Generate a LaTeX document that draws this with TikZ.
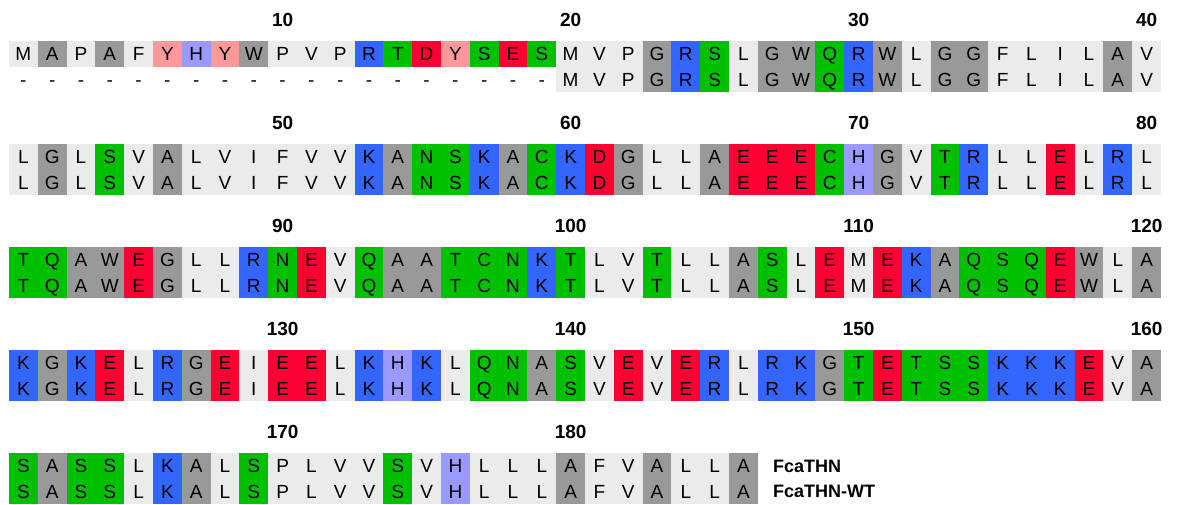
\documentclass[tikz,border=0pt]{standalone}
\usepackage{fontspec}
\setmainfont{Liberation Sans}
\usepackage{tikz}
\usetikzlibrary{positioning}

% residue colours
\definecolor{hydro}{HTML}{EBEBEB}
\definecolor{small}{HTML}{999999}
\definecolor{polar}{HTML}{00C000}
\definecolor{basic}{HTML}{3366FF}
\definecolor{acidic}{HTML}{FF0033}
\definecolor{arom}{HTML}{FF9999}
\definecolor{histi}{HTML}{9999FF}
\colorlet{resL}{hydro}\colorlet{resV}{hydro}\colorlet{resI}{hydro}
\colorlet{resF}{hydro}\colorlet{resM}{hydro}\colorlet{resP}{hydro}
\colorlet{resA}{small}\colorlet{resG}{small}\colorlet{resW}{small}
\colorlet{resS}{polar}\colorlet{resT}{polar}\colorlet{resN}{polar}
\colorlet{resQ}{polar}\colorlet{resC}{polar}
\colorlet{resK}{basic}\colorlet{resR}{basic}
\colorlet{resD}{acidic}\colorlet{resE}{acidic}
\colorlet{resY}{arom}\colorlet{resH}{histi}

\begin{document}
\begin{tikzpicture}[
  x=1pt,y=-1pt,
  aa/.style={inner sep=0pt,text height=13.7pt,text depth=0pt,font=\fontsize{19}{19}\selectfont},
  num/.style={inner sep=0pt,text height=13.7pt,text depth=0pt,font=\fontsize{19}{19}\selectfont\bfseries},
  seqname/.style={inner sep=0pt,text height=13pt,text depth=0pt,anchor=west,font=\fontsize{18}{18}\selectfont\bfseries}
]
\fill[white] (0,0) rectangle (1180,504);
\useasboundingbox (0,0) rectangle (1180,504);

\foreach \blk [count=\k from 0] in {
  {M,A,P,A,F,Y,H,Y,W,P,V,P,R,T,D,Y,S,E,S,M,V,P,G,R,S,L,G,W,Q,R,W,L,G,G,F,L,I,L,A,V},
  {L,G,L,S,V,A,L,V,I,F,V,V,K,A,N,S,K,A,C,K,D,G,L,L,A,E,E,E,C,H,G,V,T,R,L,L,E,L,R,L},
  {T,Q,A,W,E,G,L,L,R,N,E,V,Q,A,A,T,C,N,K,T,L,V,T,L,L,A,S,L,E,M,E,K,A,Q,S,Q,E,W,L,A},
  {K,G,K,E,L,R,G,E,I,E,E,L,K,H,K,L,Q,N,A,S,V,E,V,E,R,L,R,K,G,T,E,T,S,S,K,K,K,E,V,A},
  {S,A,S,S,L,K,A,L,S,P,L,V,V,S,V,H,L,L,L,A,F,V,A,L,L,A}}{
  \pgfmathsetmacro\top{41+103*\k}
  \foreach \aa [count=\i] in \blk {
    \pgfmathsetmacro\cx{28.8*\i-5.4}
    \pgfmathtruncatemacro\pos{40*\k+\i}
    \pgfmathtruncatemacro\rest{mod(\pos,10)}
    \ifnum\pos<20
      % only the first sequence has these residues
      \fill[res\aa] (\cx-14.4,\top) rectangle ++(28.8,25.5);
      \node[aa] (t\pos) at (\cx,\top+12.75) {\aa};
      \node[aa] (w\pos) at (\cx,\top+38.25) {-};
    \else
      \fill[res\aa] (\cx-14.4,\top) rectangle ++(28.8,51);
      \node[aa] (t\pos) at (\cx,\top+12.75) {\aa};
      \node[aa] (w\pos) at (\cx,\top+38.25) {\aa};
    \fi
    \ifnum\rest=0
      \node[num] (n\pos) at (\cx,\top-21) {\pos};
    \fi
  }
}

\node[seqname,right=23pt of t186] (fca) {FcaTHN};
\node[seqname,right=23pt of w186] (fcawt) {FcaTHN-WT};
\end{tikzpicture}
\end{document}
